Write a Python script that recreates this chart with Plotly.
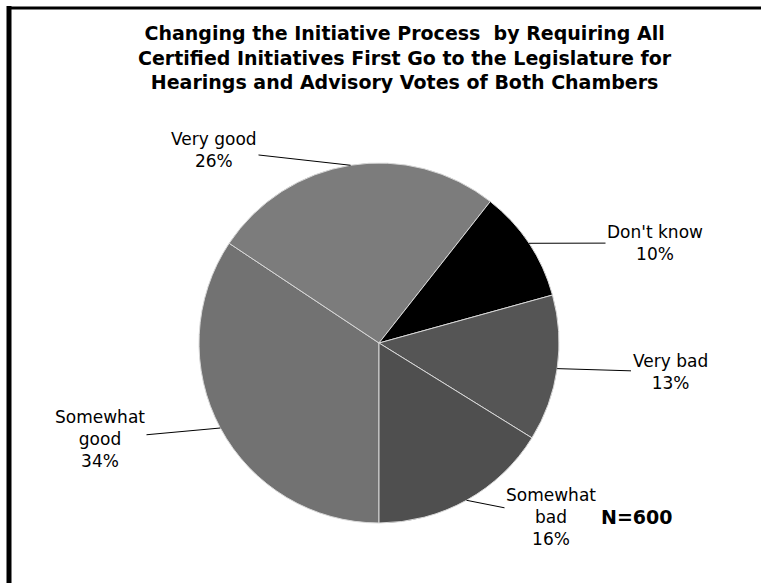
import math
import plotly.graph_objects as go

# ---- data ----
categories = ["Somewhat good", "Very good", "Don't know", "Very bad", "Somewhat bad"]
label_lines = ["Somewhat<br>good", "Very good", "Don't know", "Very bad", "Somewhat<br>bad"]
values = [34, 26, 10, 13, 16]
title_lines = ["Changing the Initiative Process  by Requiring All",
               "Certified Initiatives First Go to the Legislature for",
               "Hearings and Advisory Votes of Both Chambers"]
n_note = "N=600"

# ---- style ----
W, H = 761, 583
colors = ["#727272", "#7c7c7c", "#000000", "#555555", "#4f4f4f"]
CX, CY, R = 379, 343, 180          # pie centre / radius in pixels
START_DEG = 180                     # first slice starts at 6 o'clock, clockwise
label_pos = {                       # text centre positions in pixels
    "Somewhat good": (100, 439),
    "Very good": (214, 150),
    "Don't know": (655, 243),
    "Very bad": (670, 372),
    "Somewhat bad": (551, 517),
}
TITLE_CY = 57
FONT = "DejaVu Sans"

fig = go.Figure(go.Pie(
    labels=categories,
    values=values,
    sort=False,
    direction="clockwise",
    rotation=START_DEG,
    marker=dict(colors=colors, line=dict(color="#d8d8d8", width=1)),
    textinfo="none",
    hoverinfo="label+percent",
    showlegend=False,
    domain=dict(x=[(CX - R) / W, (CX + R) / W],
                y=[(H - CY - R) / H, (H - CY + R) / H]),
))

total = sum(values)
cum = 0.0
annotations = []
for cat, lab, v in zip(categories, label_lines, values):
    mid = START_DEG + (cum + v / 2) / total * 360.0
    cum += v
    rad = math.radians(mid)
    rx = CX + R * math.sin(rad)
    ry = CY - R * math.cos(rad)
    lx, ly = label_pos[cat]
    annotations.append(dict(
        x=rx / W, y=1 - ry / H, xref="paper", yref="paper",
        ax=lx - rx, ay=ly - ry, axref="pixel", ayref="pixel",
        text=f"{lab}<br>{v}%", showarrow=True, arrowhead=0,
        arrowwidth=1, arrowcolor="black", standoff=0,
        font=dict(family=FONT, size=17, color="black"),
        align="center",
    ))

annotations.append(dict(
    x=405 / W, y=1 - TITLE_CY / H, xref="paper", yref="paper",
    xanchor="center", yanchor="middle", align="center",
    text="<b>" + "<br>".join(title_lines) + "</b>", showarrow=False,
    font=dict(family=FONT, size=19, color="black"),
))

annotations.append(dict(
    x=674 / W, y=1 - 530 / H, xref="paper", yref="paper",
    text=f"<b>{n_note}</b>", showarrow=False,
    font=dict(family=FONT, size=19, color="black"),
))

fig.update_layout(
    width=W, height=H,
    margin=dict(l=0, r=0, t=0, b=0),
    paper_bgcolor="white", plot_bgcolor="white",
    annotations=annotations,
    shapes=[
        dict(type="line", xref="paper", yref="paper", x0=9 / W, x1=9 / W,
             y0=0, y1=1 - 6 / H, line=dict(color="black", width=5)),
        dict(type="line", xref="paper", yref="paper", x0=7 / W, x1=1,
             y0=1 - 8 / H, y1=1 - 8 / H, line=dict(color="black", width=3)),
    ],
)

fig.write_html("out.html", config={"displayModeBar": False},
               post_script="document.body.style.margin='0';")
